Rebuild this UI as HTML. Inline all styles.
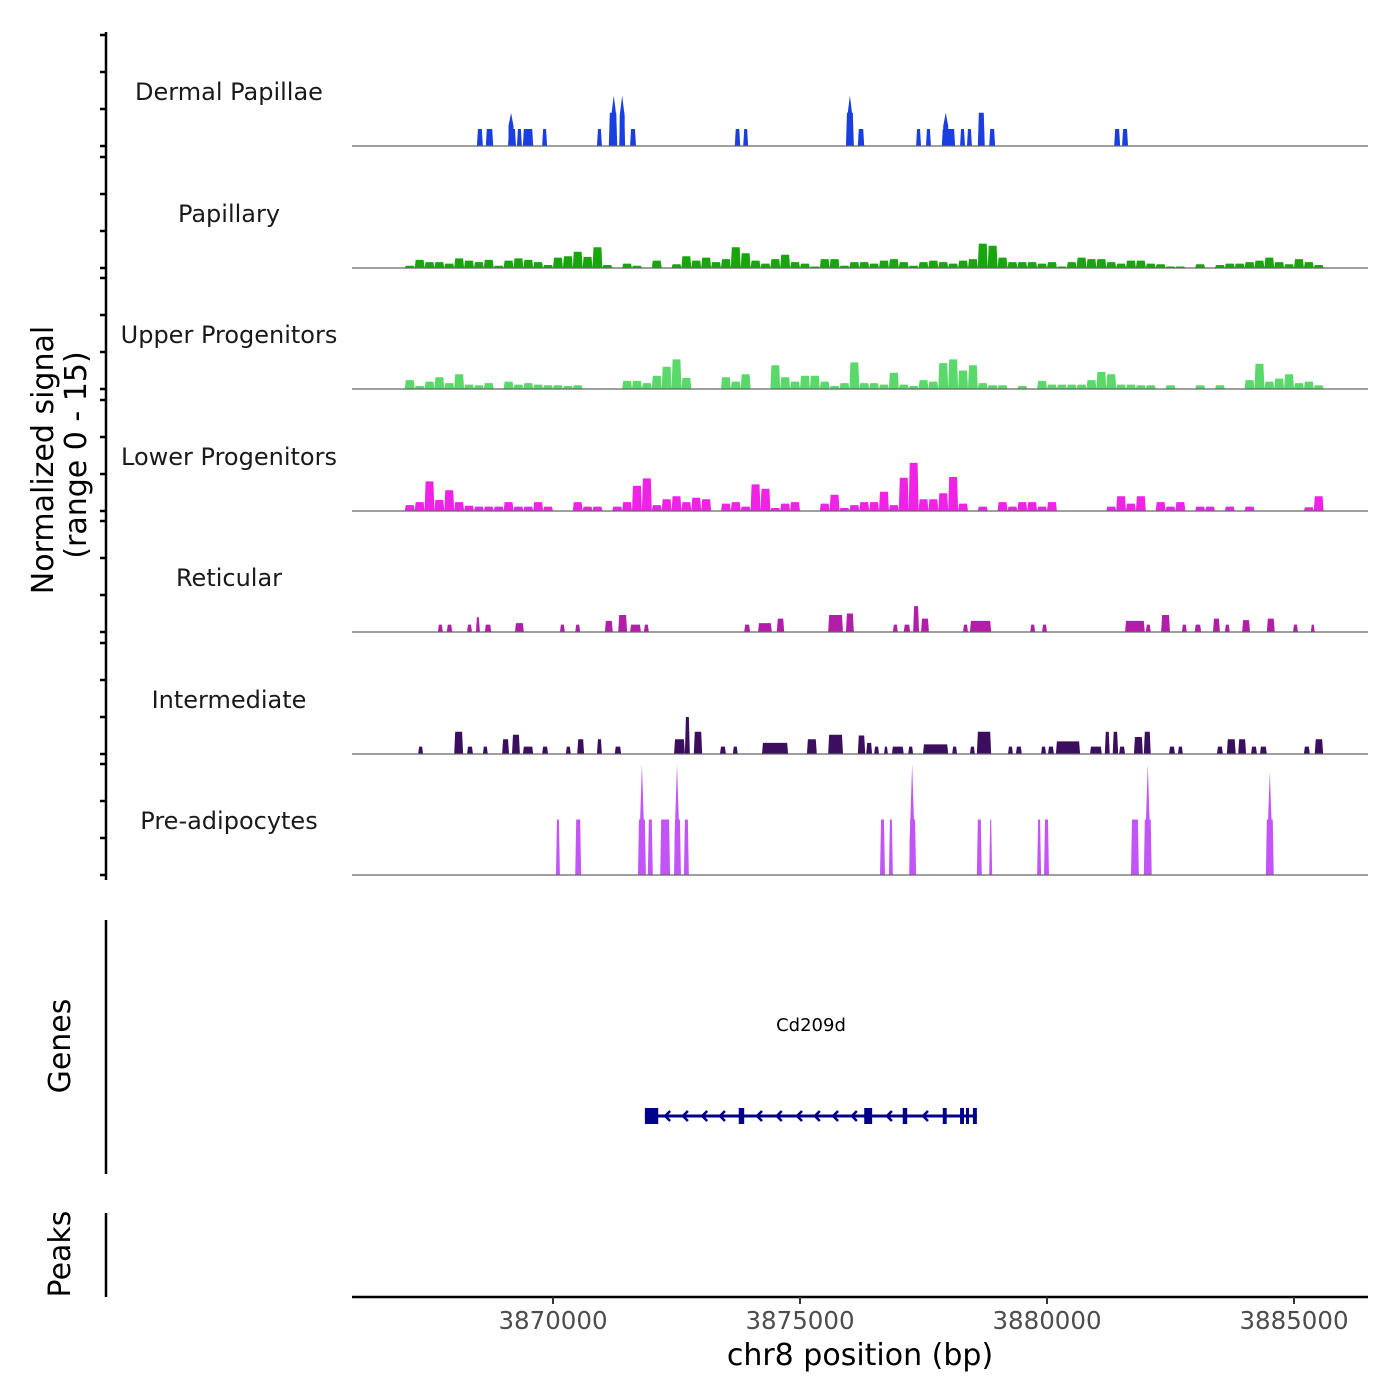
<!DOCTYPE html>
<html><head><meta charset="utf-8">
<style>
html,body{margin:0;padding:0;background:#fff;}
svg{display:block;font-family:"DejaVu Sans","Liberation Sans",sans-serif;}
</style></head>
<body>
<svg id="chart" width="1400" height="1400" viewBox="0 0 1400 1400" xmlns="http://www.w3.org/2000/svg">
  <rect x="0" y="0" width="1400" height="1400" fill="#fff"/>
  <g id="tracks"></g>
  <g id="leftaxis"></g>
  <text transform="translate(53,460) rotate(-90)" text-anchor="middle" font-size="30" fill="#000">Normalized signal</text>
  <text transform="translate(86,455) rotate(-90)" text-anchor="middle" font-size="30" fill="#000">(range 0 - 15)</text>
  <line x1="106" y1="920" x2="106" y2="1174" stroke="#000" stroke-width="2.5"/>
  <text transform="translate(70,1046) rotate(-90)" text-anchor="middle" font-size="30" fill="#000">Genes</text>
  <line x1="106" y1="1213" x2="106" y2="1297" stroke="#000" stroke-width="2.5"/>
  <text transform="translate(70,1254) rotate(-90)" text-anchor="middle" font-size="30" fill="#000">Peaks</text>
  <text x="811" y="1031" text-anchor="middle" font-size="18" fill="#000">Cd209d</text>
  <g id="gene"></g>
  <g id="xaxis"></g>
  <text x="860" y="1365" text-anchor="middle" font-size="30" fill="#000">chr8 position (bp)</text>
</svg>
<script>
// ---- data ----
const trackNames = ["Dermal Papillae","Papillary","Upper Progenitors","Lower Progenitors","Reticular","Intermediate","Pre-adipocytes"];
const trackColors = ["#1a3fe0","#17a60c","#58d96a","#ef22e6","#b21eaa","#3b0e5f","#c355f7"];
const xTickValues = [3870000,3875000,3880000,3885000];
const xTickLabels = ["3870000","3875000","3880000","3885000"];
const yTickValues = [0,5,10,15];

// binned tracks (200 bp bins starting at 3867.0 kb)
const binStartKb = 3867.0;
const binSizeKb = 0.2;
const papillaryValues = [0.3,1.1,0.8,0.8,0.6,1.3,1.0,0.8,1.1,0.3,1.0,1.3,1.1,0.8,0.4,1.4,1.6,2.2,1.5,2.8,0.4,0,0.6,0.3,0,1.0,0,0.5,1.6,1.0,1.4,0.8,1.2,2.8,2.0,1.0,0.6,1.2,1.8,0.8,0.6,0.2,1.2,1.2,0.3,0.8,0.8,0.6,1.0,1.2,0.8,0.3,0.8,1.0,0.8,0.6,1.0,1.2,3.3,3.0,1.4,0.8,0.8,0.8,0.6,0.8,0.2,0.8,1.4,1.2,1.2,0.8,0.6,1.0,1.0,0.6,0.5,0.2,0.2,0,0.5,0,0.4,0.6,0.6,0.8,1.0,1.4,0.8,0.5,1.2,0.8,0.4,0];
const upperValues = [1.2,0.4,1.0,1.6,0.8,2.0,0.6,0.5,0.8,0,1.0,0.6,0.8,0.6,0.5,0.5,0.4,0.5,0,0,0,0,1.1,1.1,0.8,1.8,3.0,4.0,1.5,0,0,0,1.6,1.0,2.0,0,0,3.2,1.6,1.0,1.8,1.8,1.0,0.4,0.8,3.6,0.8,0.8,0.6,2.2,0.6,0.4,1.2,1.0,3.5,4.0,2.5,3.2,0.8,0.5,0.5,0,0.4,0,1.1,0.6,0.6,0.6,0.6,1.2,2.3,2.0,0.6,0.6,0.5,0.5,0,0.5,0,0,0.5,0,0.5,0,0,1.2,3.4,1.0,1.4,2.0,0.8,1.0,0.5,0];
const lowerValues = [0.8,1.2,4.0,1.5,2.8,1.2,0.7,0.6,0.6,0.6,1.2,0.6,0.6,1.2,0.6,0,0,1.2,0.6,0.6,0,0.6,1.2,3.4,4.4,0.8,1.6,2.0,1.2,1.8,1.6,0,1.0,1.2,0.6,3.6,3.0,0.4,1.0,1.2,0,0,1.0,2.2,0.4,0.8,1.2,1.2,2.6,0.8,4.5,6.5,1.6,1.6,2.4,4.6,1.0,0,0.6,0,1.2,0.6,1.2,1.2,0.6,1.2,0,0,0,0,0,0.6,2.0,1.0,2.0,0,1.2,0.6,1.2,0,0.6,0.6,0,0.6,0,0.6,0,0,0,0,0,0.5,2.0,0];

// block tracks: start kb, end kb, value
const dermalStarts = [3868.46,3868.64,3869.09,3869.27,3869.39,3869.78,3870.89,3871.13,3871.34,3871.56,3873.68,3873.85,3875.93,3876.17,3877.35,3877.55,3877.87,3878.24,3878.38,3878.60,3878.83,3881.36,3881.52];
const dermalEnds   = [3868.58,3868.79,3869.25,3869.37,3869.60,3869.88,3870.99,3871.30,3871.46,3871.68,3873.79,3873.95,3876.09,3876.30,3877.45,3877.65,3878.14,3878.34,3878.48,3878.74,3878.95,3881.48,3881.64];
const dermalValues = [2.3,2.3,2.3,2.3,2.3,2.3,2.3,4.5,4.5,2.3,2.3,2.3,4.5,2.3,2.3,2.3,2.3,2.3,2.3,4.5,2.3,2.3,2.3];
const dermalSpikeKb = [3869.15,3871.23,3871.40,3876.01,3877.95];
const dermalSpikeValues = [4.5,6.8,6.8,6.8,4.5];

const reticularStarts = [3867.67,3867.85,3868.26,3868.44,3868.62,3869.23,3870.14,3870.45,3871.05,3871.32,3871.56,3871.84,3873.87,3874.15,3874.53,3875.57,3875.93,3876.88,3877.10,3877.29,3877.45,3878.30,3878.44,3879.66,3879.90,3881.58,3882.00,3882.31,3882.73,3882.99,3883.36,3883.60,3883.95,3884.45,3884.98,3885.34];
const reticularEnds   = [3867.77,3867.96,3868.36,3868.52,3868.75,3869.41,3870.24,3870.55,3871.21,3871.50,3871.78,3871.94,3873.99,3874.43,3874.68,3875.87,3876.09,3876.98,3877.23,3877.41,3877.61,3878.40,3878.87,3879.76,3880.00,3881.98,3882.10,3882.49,3882.83,3883.12,3883.50,3883.70,3884.11,3884.61,3885.08,3885.42];
const reticularValues = [1,1,1,2,1,1.2,1,1,1.5,2.3,1,1,1,1.2,1.8,2.3,2.5,1,1,3.5,1.8,1,1.5,1,1,1.5,1,2.3,1,1,1.8,1,1.6,1.8,1,1];

const intermediateStarts = [3867.27,3868.00,3868.26,3868.58,3868.97,3869.17,3869.39,3869.78,3870.26,3870.49,3870.89,3871.25,3872.45,3872.67,3872.85,3873.38,3873.64,3874.23,3875.14,3875.57,3876.17,3876.34,3876.50,3876.70,3876.86,3877.19,3877.49,3878.08,3878.44,3878.58,3879.21,3879.37,3879.88,3880.02,3880.18,3880.87,3881.17,3881.33,3881.46,3881.76,3881.96,3882.47,3882.65,3883.44,3883.64,3883.87,3884.13,3884.31,3885.20,3885.42];
const intermediateEnds   = [3867.37,3868.18,3868.38,3868.68,3869.11,3869.33,3869.60,3869.90,3870.36,3870.63,3870.99,3871.38,3872.67,3872.77,3873.02,3873.50,3873.74,3874.76,3875.34,3875.87,3876.32,3876.46,3876.60,3876.78,3877.10,3877.29,3878.00,3878.18,3878.54,3878.87,3879.31,3879.49,3879.98,3880.14,3880.67,3881.11,3881.27,3881.44,3881.58,3881.94,3882.10,3882.59,3882.75,3883.56,3883.82,3884.03,3884.25,3884.45,3885.32,3885.59];
const intermediateValues = [1,3,1,1,2,2.6,1,1,1,2,2,1,2,5,3,1,1,1.5,2,2.6,2.5,1.5,1,1,1,1,1.3,1,1,3,1,1,1,1,1.7,1,3,3,1,2.3,3,1,1,1,2,2,1,1,1,2];

const preadipoStarts = [3870.06,3870.45,3871.72,3871.92,3872.17,3872.45,3872.65,3876.62,3876.80,3877.21,3878.58,3878.83,3879.80,3879.94,3881.70,3881.96,3884.43];
const preadipoEnds   = [3870.14,3870.57,3871.88,3872.02,3872.37,3872.59,3872.75,3876.72,3876.88,3877.35,3878.68,3878.89,3879.88,3880.04,3881.86,3882.12,3884.59];
const preadipoValues = [7.5,7.5,7.5,7.5,7.5,7.5,7.5,7.5,7.5,7.5,7.5,7.5,7.5,7.5,7.5,7.5,7.5];
const preadipoSpikeKb = [3871.80,3872.51,3877.27,3882.04,3884.51];
const preadipoSpikeValues = [15,15,15,15,14];

// gene model (kb)
const geneStartKb = 3871.86, geneEndKb = 3878.58;
const exonStartsKb = [3871.86,3873.76,3876.30,3877.08,3877.89,3878.24,3878.36,3878.50];
const exonEndsKb   = [3872.13,3873.87,3876.46,3877.17,3877.97,3878.32,3878.42,3878.58];
const chevronKb = [3872.27,3872.63,3873.02,3873.38,3874.13,3874.53,3874.94,3875.30,3875.67,3876.05,3876.76,3877.49];

// ---- scales ----
const NS = "http://www.w3.org/2000/svg";
const plotLeft = 352, plotRight = 1368;
const baselines = [146,268,389,511,632,754,875];
const pxPerUnit = 7.4;
function xKb(kb){ return 553 + (kb - 3870) * 49.4; }
function xBp(bp){ return 553 + (bp - 3870000) * 0.0494; }
function yVal(t, v){ return baselines[t] - v * pxPerUnit; }
function mk(tag, attrs, parent){
  const e = document.createElementNS(NS, tag);
  for (const k in attrs) e.setAttribute(k, attrs[k]);
  parent.appendChild(e); return e;
}

const tracks = document.getElementById("tracks");
const leftAxis = document.getElementById("leftaxis");

function drawBinned(t, values){
  let d = "";
  for (let i = 0; i < values.length; i++){
    const v = values[i];
    if (v <= 0) continue;
    const x0 = xKb(binStartKb + i * binSizeKb), x1 = xKb(binStartKb + (i + 1) * binSizeKb);
    const y = yVal(t, v);
    d += "M" + x0.toFixed(1) + "," + baselines[t] + "L" + (x0 + 1).toFixed(1) + "," + y.toFixed(1) + "L" + (x1 - 1).toFixed(1) + "," + y.toFixed(1) + "L" + x1.toFixed(1) + "," + baselines[t] + "Z";
  }
  const p = mk("path", {d: d, fill: trackColors[t]}, tracks);
  
  
}
function drawBlocks(t, starts, ends, vals){
  for (let i = 0; i < starts.length; i++){
    const x0 = xKb(starts[i]), x1 = xKb(ends[i]), y = yVal(t, vals[i]);
    const p = mk("path", {d: "M" + x0 + "," + baselines[t] + "L" + (x0 + 1) + "," + y + "L" + (x1 - 1) + "," + y + "L" + x1 + "," + baselines[t] + "Z", fill: trackColors[t]}, tracks);
    
    
  }
}
function drawSpikes(t, kbs, vals){
  for (let i = 0; i < kbs.length; i++){
    const x = xKb(kbs[i]), y = yVal(t, vals[i]), b = yVal(t, Math.min(vals[i], 7.5) * 0.6);
    const p = mk("path", {d: "M" + (x - 2.5) + "," + baselines[t] + "L" + (x - 2.5) + "," + b + "L" + x + "," + y + "L" + (x + 2.5) + "," + b + "L" + (x + 2.5) + "," + baselines[t] + "Z", fill: trackColors[t]}, tracks);
    
    
  }
}

drawBlocks(0, dermalStarts, dermalEnds, dermalValues);
drawSpikes(0, dermalSpikeKb, dermalSpikeValues);
drawBinned(1, papillaryValues);
drawBinned(2, upperValues);
drawBinned(3, lowerValues);
drawBlocks(4, reticularStarts, reticularEnds, reticularValues);
drawBlocks(5, intermediateStarts, intermediateEnds, intermediateValues);
drawBlocks(6, preadipoStarts, preadipoEnds, preadipoValues);
drawSpikes(6, preadipoSpikeKb, preadipoSpikeValues);

// baselines, labels, ticks
mk("line", {x1: 106, y1: 32, x2: 106, y2: 880, stroke: "#000", "stroke-width": 2.5}, leftAxis);
for (let t = 0; t < baselines.length; t++){
  const bl = mk("line", {x1: plotLeft, y1: baselines[t], x2: plotRight, y2: baselines[t], stroke: "#666", "stroke-width": 1.2}, tracks);
  
  
  const lab = mk("text", {x: 229, y: baselines[t] - 46, "text-anchor": "middle", "font-size": 24, fill: "#1a1a1a"}, tracks);
  lab.textContent = trackNames[t];
  
  
  for (const v of yTickValues){
    const y = yVal(t, v);
    const tk = mk("line", {x1: 100, y1: y, x2: 106, y2: y, stroke: "#000", "stroke-width": 2.5}, leftAxis);
    
    
  }
}

// gene
const gene = document.getElementById("gene");
const gy = 1116;
mk("line", {x1: xKb(geneStartKb), y1: gy, x2: xKb(geneEndKb), y2: gy, stroke: "#00008b", "stroke-width": 3}, gene);
for (let i = 0; i < exonStartsKb.length; i++){
  const x0 = xKb(exonStartsKb[i]), x1 = xKb(exonEndsKb[i]);
  const ex = mk("rect", {x: x0, y: gy - 8, width: Math.max(x1 - x0, 3), height: 16, fill: "#00008b"}, gene);
  
  
}
for (const c of chevronKb){
  const x = xKb(c);
  const ch = mk("path", {d: "M" + (x + 5) + "," + (gy - 5) + "L" + x + "," + gy + "L" + (x + 5) + "," + (gy + 5), stroke: "#00008b", "stroke-width": 2.5, fill: "none"}, gene);
  
  
}

// x axis
const xa = document.getElementById("xaxis");
mk("line", {x1: plotLeft, y1: 1297, x2: plotRight, y2: 1297, stroke: "#000", "stroke-width": 2.5}, xa);
for (let i = 0; i < xTickValues.length; i++){
  const x = xBp(xTickValues[i]);
  const tk = mk("line", {x1: x, y1: 1297, x2: x, y2: 1304, stroke: "#333", "stroke-width": 2}, xa);
  
  
  const tl = mk("text", {x: x, y: 1329, "text-anchor": "middle", "font-size": 24.5, fill: "#4d4d4d"}, xa);
  tl.textContent = xTickLabels[i];
  
  
}
</script>
</body></html>
